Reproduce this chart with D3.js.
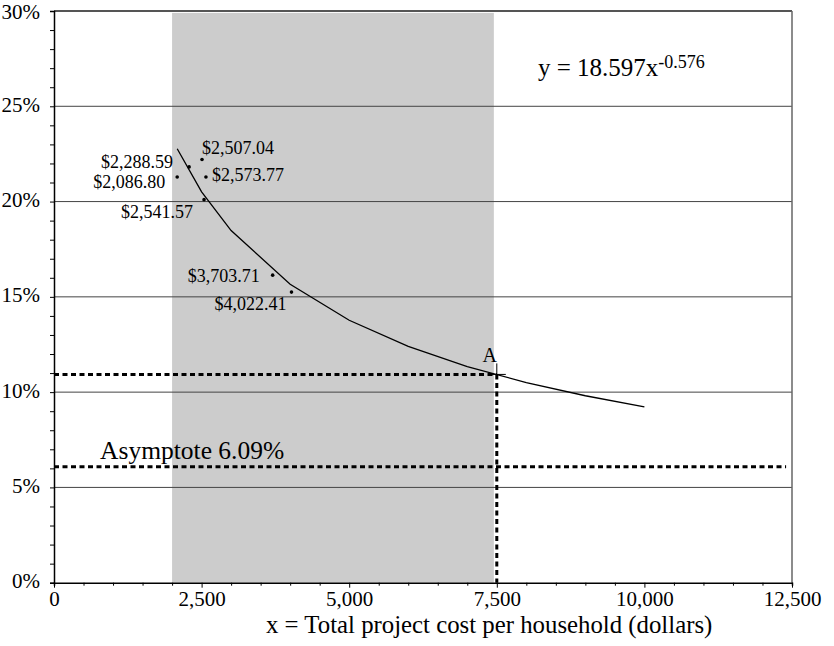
<!DOCTYPE html>
<html>
<head>
<meta charset="utf-8">
<script src="https://cdn.jsdelivr.net/npm/d3@7.9.0/dist/d3.min.js"></script>
<style>
  body { margin: 0; background: #fff; }
  svg { display: block; font-family: "Liberation Serif", "Times New Roman", serif; }
</style>
</head>
<body>
<div id="chart"></div>
<script>
// ── Data ─────────────────────────────────────────────────────────────────────
// observed projects: cost per household ($) and rate (%)
const costs = [2086.80, 2288.59, 2507.04, 2573.77, 2541.57, 3703.71, 4022.41];
const rates = [21.29, 21.82, 22.21, 21.29, 20.10, 16.14, 15.25];
const costLabels = ['$2,086.80', '$2,288.59', '$2,507.04', '$2,573.77', '$2,541.57', '$3,703.71', '$4,022.41'];

// fitted power curve y = 18.597x^-0.576
const curveX = [2086.8, 2500, 3000, 4000, 5000, 6000, 7000, 8000, 9000, 10000];
const curveY = [22.77, 20.51, 18.48, 15.66, 13.77, 12.40, 11.34, 10.50, 9.81, 9.23];

// shaded range, point A and asymptote
const bandRange = [2000, 7450];
const bandTop = 29.9;
const pointA = [7500, 10.93];
const asymptote = 6.09;
const asymptoteEnd = 12400;

const xTicks = d3.range(0, 12501, 500);
const yTicks = d3.range(0, 31, 1);

// label placement for each data point: [dx, dy, anchor]
const labelPlace = [
  [-12, 11, 'end'], [-16, 1, 'end'], [0, -5, 'start'], [6, 4, 'start'],
  [-11, 18, 'end'], [-13, 7, 'end'], [-5, 18, 'end'],
];

// ── Chart ────────────────────────────────────────────────────────────────────
const width = 834, height = 646;
const margin = { top: 11, right: 42, bottom: 64, left: 54 };

const svg = d3.select('#chart').append('svg')
  .attr('width', width).attr('height', height)
  .attr('viewBox', `0 0 ${width} ${height}`);

const x = d3.scaleLinear().domain([0, 12500]).range([margin.left, width - margin.right]);
const y = d3.scaleLinear().domain([0, 30]).range([height - margin.bottom + 0.7, margin.top]);

// shaded band
svg.append('rect')
  .attr('x', x(bandRange[0])).attr('width', x(bandRange[1]) - x(bandRange[0]))
  .attr('y', y(bandTop)).attr('height', y(0) - y(bandTop))
  .attr('fill', '#cccccc');

// gridlines
svg.append('g').selectAll('line')
  .data([5, 10, 15, 20, 25])
  .join('line')
  .attr('x1', x(0)).attr('x2', x(12500))
  .attr('y1', d => y(d)).attr('y2', d => y(d))
  .attr('stroke', '#444').attr('stroke-width', 1);

// top and right frame
svg.append('line')
  .attr('x1', x(0)).attr('x2', x(12500)).attr('y1', y(30)).attr('y2', y(30))
  .attr('stroke', '#555').attr('stroke-width', 2);
svg.append('line')
  .attr('x1', x(12500)).attr('x2', x(12500)).attr('y1', y(30)).attr('y2', y(0))
  .attr('stroke', '#666').attr('stroke-width', 1.5);

// axes
const yAxis = svg.append('g')
  .attr('transform', `translate(${x(0)},0)`)
  .call(d3.axisLeft(y).tickValues(yTicks).tickSize(4).tickPadding(10)
    .tickFormat(d => d % 5 === 0 ? d + '%' : ''));
const xAxis = svg.append('g')
  .attr('transform', `translate(0,${y(0)})`)
  .call(d3.axisBottom(x).tickValues(xTicks).tickSize(3).tickPadding(4)
    .tickFormat(d => d % 2500 === 0 ? d3.format(',')(d) : ''));

xAxis.selectAll('.tick line').attr('y2', d => d % 2500 === 0 ? 5 : 3);
[yAxis, xAxis].forEach(g => {
  g.select('.domain').attr('stroke', '#000').attr('stroke-width', 1.5);
  g.selectAll('.tick line').attr('stroke', '#000').attr('stroke-width', 1);
  g.selectAll('.tick text').attr('fill', '#000').style('font-size', '21px')
    .style('font-family', '"Liberation Serif", serif');
});
yAxis.selectAll('.tick text').attr('dy', d => d === 30 ? 7 : 5).attr('dominant-baseline', 'auto');
xAxis.selectAll('.tick text').attr('dy', '0').attr('y', 23);

// dotted reference lines
const dotted = svg.append('g')
  .attr('stroke', '#000').attr('stroke-width', 3).attr('stroke-dasharray', '5,3.5').attr('fill', 'none');
dotted.append('line')
  .attr('x1', x(0)).attr('x2', x(pointA[0])).attr('y1', y(pointA[1])).attr('y2', y(pointA[1]));
dotted.append('line')
  .attr('x1', x(pointA[0])).attr('x2', x(pointA[0])).attr('y1', y(pointA[1])).attr('y2', y(0));
dotted.append('line')
  .attr('x1', x(0)).attr('x2', x(asymptoteEnd)).attr('y1', y(asymptote)).attr('y2', y(asymptote));

// trend curve
svg.append('path')
  .datum(d3.zip(curveX, curveY))
  .attr('d', d3.line().x(d => x(d[0])).y(d => y(d[1])))
  .attr('fill', 'none').attr('stroke', '#000').attr('stroke-width', 1.3);

// marker at A
const ax = x(pointA[0]), ay = y(pointA[1]);
svg.append('path')
  .attr('d', `M${ax - 7},${ay}H${ax + 9}M${ax},${ay - 11}V${ay}`)
  .attr('stroke', '#000').attr('stroke-width', 1);
svg.append('text')
  .attr('x', ax - 7).attr('y', ay - 12)
  .attr('text-anchor', 'middle').style('font-size', '20px').text('A');

// data points and labels
const pts = d3.zip(costs, rates, costLabels, labelPlace);
svg.append('g').selectAll('circle')
  .data(pts).join('circle')
  .attr('cx', d => x(d[0])).attr('cy', d => y(d[1])).attr('r', 1.8).attr('fill', '#000');
svg.append('g').selectAll('text')
  .data(pts).join('text')
  .attr('x', d => x(d[0]) + d[3][0]).attr('y', d => y(d[1]) + d[3][1])
  .attr('text-anchor', d => d[3][2])
  .style('font-size', '18px').text(d => d[2]);

// asymptote label
svg.append('text')
  .attr('x', x(780)).attr('y', y(asymptote) - 8)
  .style('font-size', '25.5px').text('Asymptote 6.09%');

// equation
const eq = svg.append('text').attr('x', 538).attr('y', 76).style('font-size', '25px');
eq.append('tspan').text('y = 18.597x');
eq.append('tspan').attr('dy', -8).style('font-size', '18px').text('-0.576');

// x axis title
svg.append('text')
  .attr('x', 266).attr('y', 633)
  .style('font-size', '24.8px').text('x = Total project cost per household (dollars)');
</script>
</body>
</html>
